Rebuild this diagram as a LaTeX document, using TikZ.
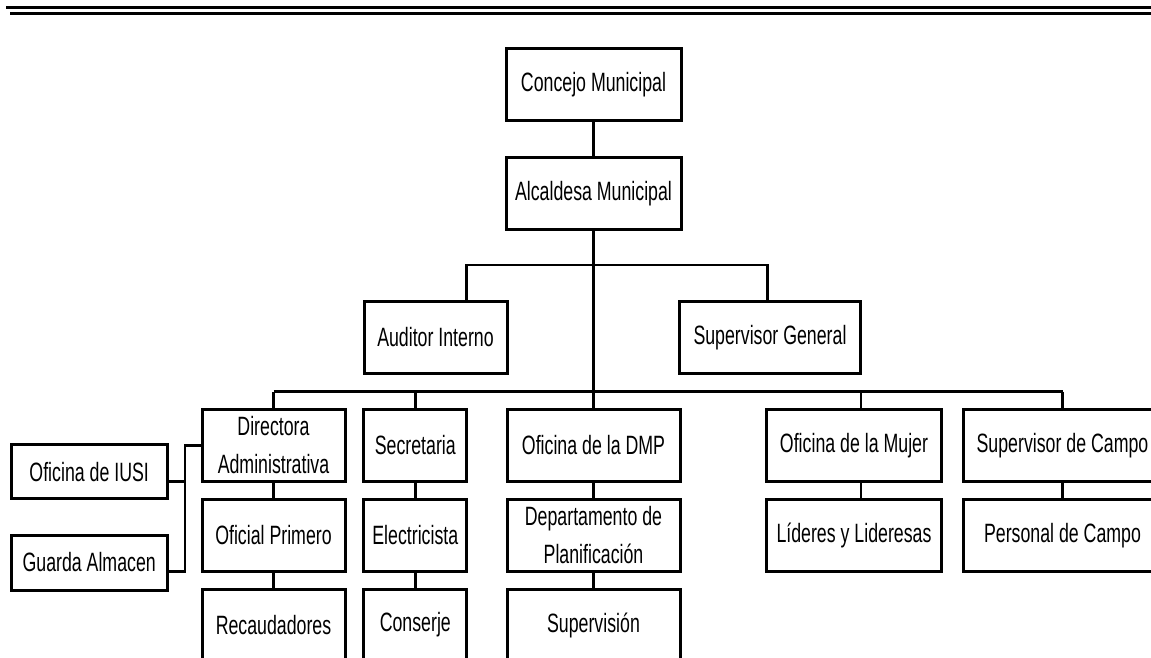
\documentclass[tikz,border=0pt]{standalone}
\usepackage{fontspec}
\setmainfont{Liberation Sans}[FakeStretch=0.67]
\begin{document}
\begin{tikzpicture}[x=1pt,y=-1pt,
  box/.style={draw, line width=3pt, inner sep=0pt, minimum height=72pt, align=center,
    font=\fontsize{26.5}{38}\selectfont},
  conn/.style={line width=2.7pt},
  rule/.style={line width=3pt}]
\path[use as bounding box] (0,0) rectangle (1151,658);
\clip (0,0) rectangle (1151,658);
% header rules
\draw[rule] (6,8) -- (1151,8);
\draw[rule, line width=2.7pt] (10,13.7) -- (1151,13.7);
% nodes
\node[box, minimum width=175pt] (conc) at (593.5,85) {Concejo Municipal};
\node[box, minimum width=175pt] (alc) at (593.5,193.3) {Alcaldesa Municipal};
\node[box, minimum width=143pt] (aud) at (435.5,337.2) {Auditor Interno};
\node[box, minimum width=181pt] (supg) at (770,337.2) {Supervisor General};
\node[box, minimum width=143pt] (dir) at (273.5,445.2) {Directora\\Administrativa};
\node[box, minimum width=103pt] (sec) at (415.3,445.2) {Secretaria};
\node[box, minimum width=173pt] (dmp) at (593.5,445.2) {Oficina de la DMP};
\node[box, minimum width=175pt] (muj) at (854,445.2) {Oficina de la Mujer};
\node[box, minimum width=198pt] (camp) at (1062.5,445.2) {Supervisor de Campo};
\node[box, minimum width=143pt] (ofi) at (273.5,535.4) {Oficial Primero};
\node[box, minimum width=103pt] (ele) at (415.3,535.4) {Electricista};
\node[box, minimum width=173pt] (dep) at (593.5,535.4) {Departamento de\\Planificación};
\node[box, minimum width=175pt] (lid) at (854,535.4) {Líderes y Lideresas};
\node[box, minimum width=198pt] (pers) at (1062.5,535.4) {Personal de Campo};
\node[box, minimum width=143pt] (rec) at (273.5,625) {Recaudadores};
\node[box, minimum width=103pt] (con) at (415.3,625) {Conserje};
\node[box, minimum width=173pt] (sup) at (593.5,625) {Supervisión};
\node[box, minimum width=156pt, minimum height=53.5pt] (iusi) at (89.2,471.7) {Oficina de IUSI};
\node[box, minimum width=156pt, minimum height=55pt] (guar) at (89.2,562.5) {Guarda Almacen};
% coordinates
\coordinate (ubL) at (466.7,265);
\coordinate (ubR) at (767.7,265);
\coordinate (lb) at (0,391.7);
\coordinate (mujx) at (861,0);
\coordinate (jn) at (185,445.2);
% connectors
\draw[conn] (conc) -- (alc);
\draw[conn] (alc) -- (dmp);
\draw[conn] (ubL |- aud.north) -- (ubL) -- (ubR) -- (ubR |- supg.north);
\draw[conn] (dir.north |- lb) -- (camp.north |- lb);
\draw[conn] (dir.north |- lb) -- (dir.north);
\draw[conn] (sec.north |- lb) -- (sec.north);
\draw[conn] (mujx |- lb) -- (mujx |- muj.north);
\draw[conn] (camp.north |- lb) -- (camp.north);
\draw[conn] (dir) -- (ofi);
\draw[conn] (ofi) -- (rec);
\draw[conn] (sec) -- (ele);
\draw[conn] (ele) -- (con);
\draw[conn] (dmp) -- (dep);
\draw[conn] (dep) -- (sup);
\draw[conn] (mujx |- muj.south) -- (mujx |- lid.north);
\draw[conn] (camp) -- (pers);
\draw[conn] (dir.west) -- (jn) -- (jn |- 0,571.7) -- (guar.east |- 0,571.7);
\draw[conn] (iusi.east |- 0,481.7) -- (jn |- 0,481.7);
\end{tikzpicture}
\end{document}
